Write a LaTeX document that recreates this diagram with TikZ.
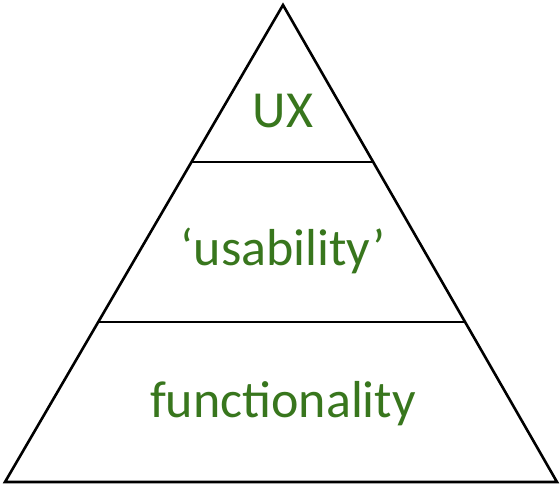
\documentclass[tikz,border=0pt]{standalone}
\usepackage{fontspec}
\setmainfont{Carlito}
\usetikzlibrary{calc}
\definecolor{txtgreen}{RGB}{56,118,29}
\begin{document}
\begin{tikzpicture}[x=1pt,y=-1pt,
  edge/.style={draw=black,line width=2.6pt,line join=miter},
  lab/.style={text=txtgreen,font=\fontsize{52}{60}\selectfont,anchor=base,inner sep=0pt}]
\useasboundingbox (0,0) rectangle (560,484);
\coordinate (apex) at (283,5);
\coordinate (bl) at (5,482);
\coordinate (br) at (557,482);
\coordinate (l1) at ($(apex)!0.3291!(bl)$);
\coordinate (r1) at ($(apex)!0.3291!(br)$);
\coordinate (l2) at ($(apex)!0.6646!(bl)$);
\coordinate (r2) at ($(apex)!0.6646!(br)$);
\draw[edge] (apex) -- (br) -- (bl) -- cycle;
\draw[edge] (l1) -- (r1);
\draw[edge] (l2) -- (r2);
\node[lab] (ux) at (283,128) {UX};
\node[lab] (us) at (283,265) {‘usability’};
\node[lab] (fn) at (283,417) {functionality};
\end{tikzpicture}
\end{document}
